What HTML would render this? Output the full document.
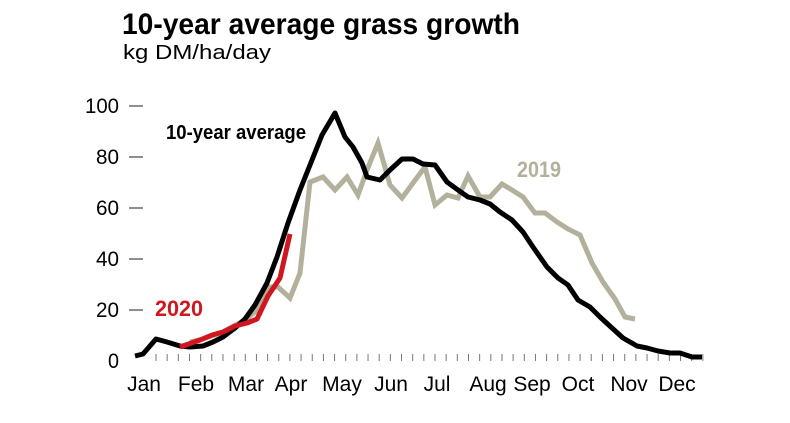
<!DOCTYPE html>
<html><head><meta charset="utf-8"><style>
html,body{margin:0;padding:0;background:#fff;width:790px;height:423px;overflow:hidden}
svg{display:block}
text{font-family:"Liberation Sans",sans-serif}
</style></head><body>
<svg width="790" height="423" viewBox="0 0 790 423">
<text x="122" y="34" font-size="30" font-weight="bold" textLength="398" lengthAdjust="spacingAndGlyphs" fill="#000">10-year average grass growth</text>
<text x="123" y="59" font-size="20" textLength="148" lengthAdjust="spacingAndGlyphs" fill="#000">kg DM/ha/day</text>
<g font-size="21" fill="#000" text-anchor="end">
<text x="119" y="368" textLength="11" lengthAdjust="spacingAndGlyphs">0</text>
<text x="119" y="317" textLength="23" lengthAdjust="spacingAndGlyphs">20</text>
<text x="119" y="266" textLength="23" lengthAdjust="spacingAndGlyphs">40</text>
<text x="119" y="215" textLength="23" lengthAdjust="spacingAndGlyphs">60</text>
<text x="119" y="164" textLength="23" lengthAdjust="spacingAndGlyphs">80</text>
<text x="119" y="113" textLength="34" lengthAdjust="spacingAndGlyphs">100</text>
</g>
<g stroke="#444" stroke-width="1.2">
<line x1="129" y1="106" x2="143" y2="106"/><line x1="129" y1="157" x2="143" y2="157"/>
<line x1="129" y1="208" x2="143" y2="208"/><line x1="129" y1="259" x2="143" y2="259"/>
<line x1="129" y1="310" x2="143" y2="310"/>
</g>
<g stroke="#777" stroke-width="1" id="ticks"></g>
<g font-size="21" fill="#000" text-anchor="middle" font-weight="500">
<text x="144" y="391">Jan</text><text x="196" y="391">Feb</text><text x="246" y="391">Mar</text>
<text x="291" y="391">Apr</text><text x="342" y="391">May</text><text x="391" y="391">Jun</text>
<text x="437" y="391">Jul</text><text x="488" y="391">Aug</text><text x="532" y="391">Sep</text>
<text x="578" y="391">Oct</text><text x="629" y="391">Nov</text><text x="677" y="391">Dec</text>
</g>
<polyline fill="none" stroke="#b3b09c" stroke-width="5" stroke-linejoin="miter" points="190,342 203,339 223,332 245,320 257,310 268,287 278,287 290,298 300,273 310,182 323,177 335,190 347,177 358,195 367,170 378,143 390,185 402,198 413,183 425,167 435,205 447,195 458,198 468,176 480,197 490,197 502,184 512,190 523,197 535,213 545,213 557,222 568,229 580,235 592,263 603,282 615,299 625,317 635,319"/>
<polyline fill="none" stroke="#000" stroke-width="5" stroke-linejoin="round" points="135,356 143,354 156,339 167,342 180,346 190,347 203,346 213,342 223,337 235,328 245,319 255,305 267,283 277,257 288,223 300,190 310,165 322,135 335,113 345,137 353,147 362,163 367,177 380,180 390,170 402,159 413,159 423,164 435,165 447,182 458,190 468,197 480,200 490,204 500,212 512,220 523,232 533,247 547,267 558,278 568,285 578,300 590,307 600,317 612,328 623,338 637,346 647,348 658,351 670,353 680,353 692,357 702,357"/>
<polyline fill="none" stroke="#d0161e" stroke-width="5" stroke-linejoin="round" points="180,347 200,340 212,335 223,332 235,326 247,323 257,319 268,296 280,278 290,234"/>
<text x="166" y="139" font-size="20" font-weight="bold" textLength="140" lengthAdjust="spacingAndGlyphs" fill="#000">10-year average</text>
<text x="155" y="316" font-size="22" font-weight="bold" textLength="48" lengthAdjust="spacingAndGlyphs" fill="#d0161e">2020</text>
<text x="517" y="177" font-size="22" font-weight="bold" textLength="44" lengthAdjust="spacingAndGlyphs" fill="#b3b09c">2019</text>
</svg>
<script>
var g=document.getElementById('ticks'),s='';
for(var x=156;x<=703;x+=11.16){s+='<line x1="'+x+'" y1="354" x2="'+x+'" y2="361"/>';}
g.innerHTML=s;
</script>
</body></html>
